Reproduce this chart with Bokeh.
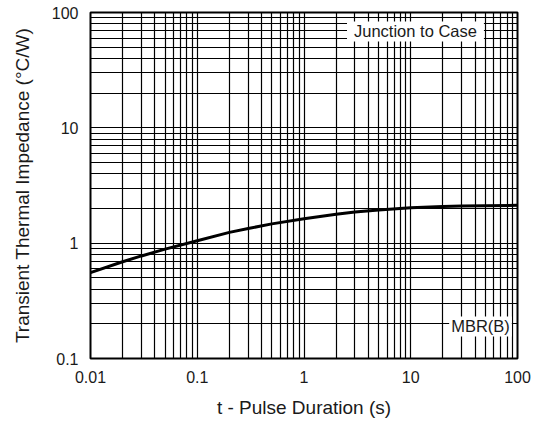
from bokeh.plotting import figure
from bokeh.models import Range1d, FixedTicker, Label
from bokeh.embed import file_html
from bokeh.resources import INLINE

# data
pulse_duration = [0.01, 0.02, 0.03, 0.05, 0.1, 0.2, 0.3, 0.5, 1, 2, 3, 5, 10, 20, 30, 50, 100]
impedance = [0.555, 0.69, 0.775, 0.887, 1.05, 1.24, 1.34, 1.47, 1.625, 1.78, 1.86, 1.94, 2.03, 2.08, 2.10, 2.115, 2.13]

x_ticks = [0.01, 0.1, 1, 10, 100]
x_tick_labels = ["0.01", "0.1", "1", "10", "100"]
y_ticks = [0.1, 1, 10, 100]
y_tick_labels = ["0.1", "1", "10", "100"]

FONT = "Liberation Sans"
TXT = "#1a1a1a"

def minor_of(majors):
    out = []
    for m in majors[:-1]:
        out += [m * k for k in range(2, 10)]
    return out

p = figure(width=542, height=421, x_axis_type="log", y_axis_type="log",
           x_range=Range1d(0.01, 100), y_range=Range1d(0.1, 100),
           output_backend="svg", toolbar_location=None,
           min_border_left=90, min_border_right=25, min_border_top=12, min_border_bottom=63)

xt = FixedTicker(ticks=x_ticks, minor_ticks=minor_of(x_ticks))
yt = FixedTicker(ticks=y_ticks, minor_ticks=minor_of(y_ticks))
p.xaxis.ticker = xt
p.yaxis.ticker = yt
p.xgrid.ticker = xt
p.ygrid.ticker = yt
p.xaxis.major_label_overrides = dict(zip(x_ticks, x_tick_labels))
p.yaxis.major_label_overrides = dict(zip(y_ticks, y_tick_labels))

for g in (p.xgrid, p.ygrid):
    g.grid_line_color = "black"
    g.grid_line_width = 1.2
    g.minor_grid_line_color = "black"
    g.minor_grid_line_width = 1.2

for ax in (p.xaxis, p.yaxis):
    ax.axis_line_color = None
    ax.major_tick_line_color = None
    ax.minor_tick_line_color = None
    ax.major_tick_out = 0
    ax.major_tick_in = 0
    ax.minor_tick_out = 0
    ax.minor_tick_in = 0
    ax.major_label_text_font = FONT
    ax.major_label_text_font_size = "16px"
    ax.major_label_text_color = TXT
    ax.major_label_standoff = 12
    ax.axis_label_text_font = FONT
    ax.axis_label_text_font_size = "19px"
    ax.axis_label_text_font_style = "normal"
    ax.axis_label_text_color = TXT

p.xaxis.axis_label = "t - Pulse Duration (s)"
p.yaxis.axis_label = "Transient Thermal Impedance (°C/W)"
p.xaxis.axis_label_standoff = 11
p.yaxis.axis_label_standoff = 16

p.outline_line_color = "black"
p.outline_line_width = 2
p.background_fill_color = "white"
p.border_fill_color = "white"

p.line(pulse_duration, impedance, line_width=3, line_color="black")

p.add_layout(Label(x=11.07, y=68.6, text="Junction to Case", text_align="center",
                   text_baseline="middle", text_font=FONT, text_font_size="16.5px",
                   text_color=TXT, background_fill_color="white", padding=(7, 1)))
p.add_layout(Label(x=45, y=0.1895, text="MBR(B)", text_align="center",
                   text_baseline="middle", text_font=FONT, text_font_size="16.5px",
                   text_color=TXT, background_fill_color="white", padding=(2, 1)))

open("out.html", "w").write(file_html(p, INLINE))
